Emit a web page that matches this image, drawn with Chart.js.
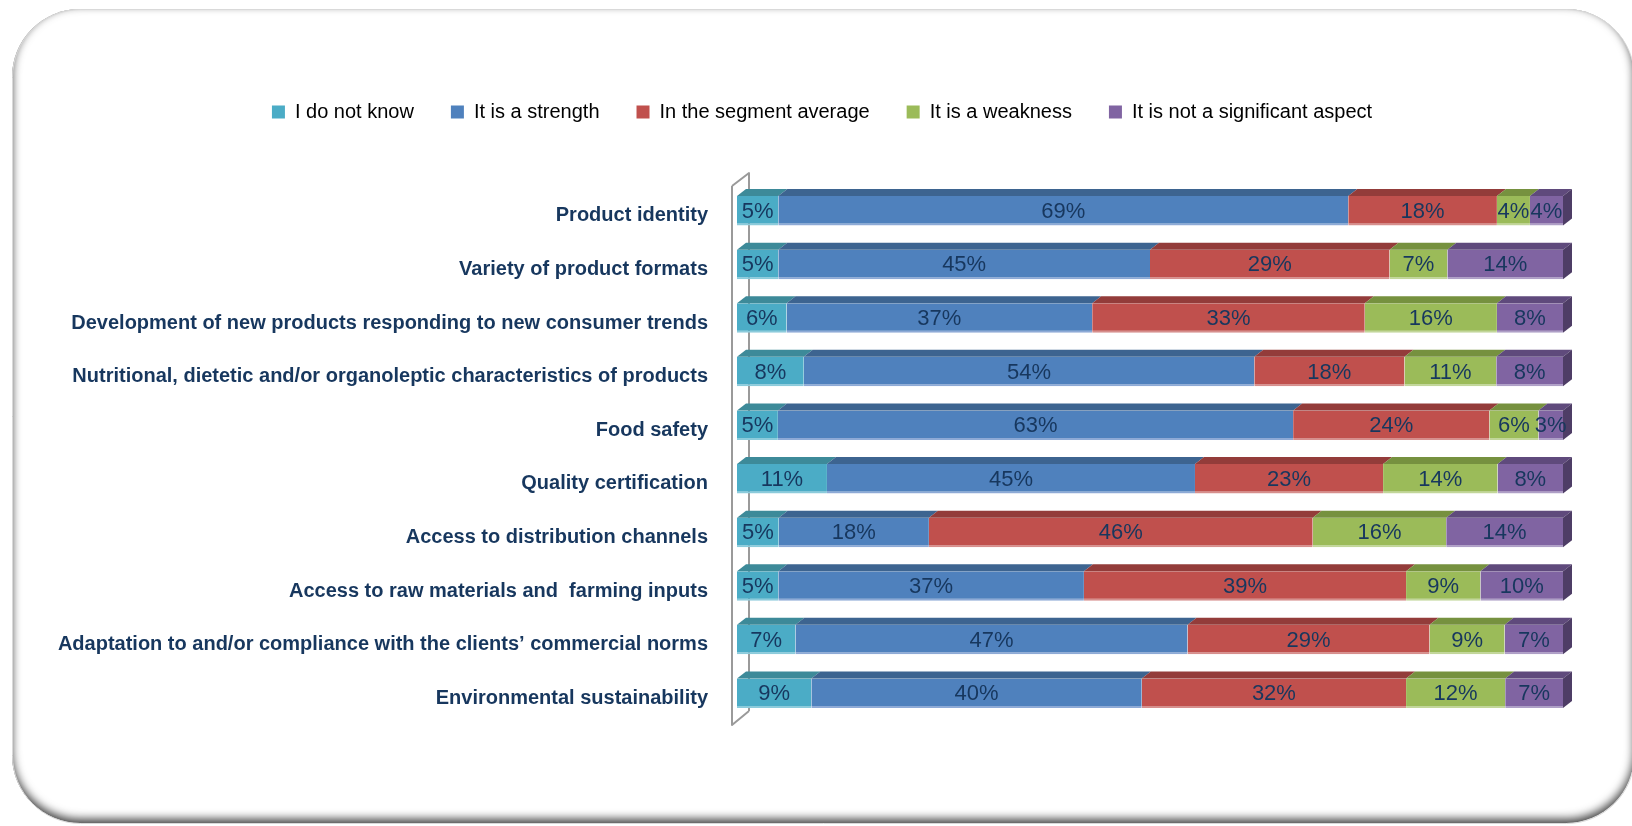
<!DOCTYPE html>
<html>
<head>
<meta charset="utf-8">
<script src="https://cdn.jsdelivr.net/npm/chart.js@4.4.1/dist/chart.umd.min.js"></script>
<style>
  html, body { margin: 0; padding: 0; background: #ffffff; }
  #wrap { width: 1632px; height: 826px; }
</style>
</head>
<body>
<div id="wrap"><canvas id="chart" width="1632" height="826"></canvas></div>
<script>
// Survey aspects (top to bottom)
const categories = [
  "Product identity",
  "Variety of product formats",
  "Development of new products responding to new consumer trends",
  "Nutritional, dietetic and/or organoleptic characteristics of products",
  "Food safety",
  "Quality certification",
  "Access to distribution channels",
  "Access to raw materials and  farming inputs",
  "Adaptation to and/or compliance with the clients\u2019 commercial norms",
  "Environmental sustainability"
];

const seriesNames = [
  "I do not know",
  "It is a strength",
  "In the segment average",
  "It is a weakness",
  "It is not a significant aspect"
];

// Answer shares, in percent
const doNotKnow      = [5, 5, 6, 8, 5, 11, 5, 5, 7, 9];
const strength       = [69, 45, 37, 54, 63, 45, 18, 37, 47, 40];
const segmentAverage = [18, 29, 33, 18, 24, 23, 46, 39, 29, 32];
const weakness       = [4, 7, 16, 11, 6, 14, 16, 9, 9, 12];
const notSignificant = [4, 14, 8, 8, 3, 8, 14, 10, 7, 7];

const seriesValues = [doNotKnow, strength, segmentAverage, weakness, notSignificant];

// Face, top-face and lower-edge colours per series
const faceColors  = ["#4BACC6", "#4F81BD", "#C0504D", "#9BBB59", "#8064A2"];
const topColors   = ["#3D8A99", "#3D6490", "#933C3A", "#76913F", "#5F4A7C"];
const edgeColors  = ["#8CCBDB", "#8EAAD6", "#D68F8D", "#C2D69A", "#AE9FC6"];
const sideColor   = "#4E3D66";

const textNavy = "#17375E";

// 100% stacked: each row is scaled to its own total
const rowTotals = categories.map((_, i) => seriesValues.reduce((s, arr) => s + arr[i], 0));

const datasets = seriesNames.map((name, k) => ({
  label: name,
  data: seriesValues[k].map((v, i) => v / rowTotals[i] * 100),
  shares: seriesValues[k],
  backgroundColor: faceColors[k],
  borderColor: edgeColors[k],
  borderWidth: { top: 0, right: 0, bottom: 2, left: 0 },
  borderSkipped: false,
  barPercentage: 0.55,
  categoryPercentage: 1.0
}));

const DEPTH_X = 9;
const DEPTH_Y = 7;

function roundedPath(ctx, x, y, w, h, r) {
  ctx.moveTo(x + r, y);
  ctx.lineTo(x + w - r, y);
  ctx.arcTo(x + w, y, x + w, y + r, r);
  ctx.lineTo(x + w, y + h - r);
  ctx.arcTo(x + w, y + h, x + w - r, y + h, r);
  ctx.lineTo(x + r, y + h);
  ctx.arcTo(x, y + h, x, y + h - r, r);
  ctx.lineTo(x, y + r);
  ctx.arcTo(x, y, x + r, y, r);
  ctx.closePath();
}

// White panel with a rounded, inset-shaded border
const panelFrame = {
  id: "panelFrame",
  beforeDraw(chart) {
    const ctx = chart.ctx;
    const W = chart.width, H = chart.height;
    ctx.save();
    ctx.fillStyle = "#ffffff";
    ctx.fillRect(0, 0, W, H);

    const fx = 12, fy = 9, fw = 1622, fh = 814, fr = 68;
    ctx.beginPath();
    roundedPath(ctx, fx, fy, fw, fh, fr);
    ctx.clip();

    ctx.beginPath();
    ctx.rect(-200, -200, W + 400, H + 400);
    roundedPath(ctx, fx, fy, fw, fh, fr);
    ctx.shadowColor = "rgba(0,0,0,0.75)";
    ctx.shadowBlur = 10;
    ctx.shadowOffsetX = 0;
    ctx.shadowOffsetY = -4;
    ctx.fillStyle = "#7a7a7a";
    ctx.fill("evenodd");
    ctx.restore();

    ctx.save();
    ctx.beginPath();
    roundedPath(ctx, fx + 0.5, fy + 0.5, fw, fh, fr);
    ctx.strokeStyle = "#d9d9d9";
    ctx.lineWidth = 1;
    ctx.stroke();
    ctx.restore();
  }
};

// Centre the legend row over the whole panel rather than the padded area
const legendCentre = {
  id: "legendCentre",
  afterLayout(chart) {
    const lg = chart.legend;
    if (!lg) return;
    const shift = (chart.width - lg.right) - lg.left + 12;
    lg.left += shift / 2;
    lg.right += shift / 2;
  }
};

// Floor/wall edge of the 3-D plot on the category side
const wallEdge = {
  id: "wallEdge",
  beforeDatasetsDraw(chart) {
    const { left, top, bottom } = chart.chartArea;
    const ctx = chart.ctx;
    const fx = left - 5, bx = left + 12;
    ctx.save();
    ctx.strokeStyle = "#9a9a9a";
    ctx.lineWidth = 2;
    ctx.lineJoin = "round";
    ctx.beginPath();
    ctx.moveTo(fx, top + 2);
    ctx.lineTo(fx, bottom + 5);
    ctx.lineTo(bx, bottom - 9);
    ctx.moveTo(fx, top + 2);
    ctx.lineTo(bx, top - 11);
    ctx.lineTo(bx, bottom - 9);
    ctx.stroke();
    ctx.restore();
  }
};

// Top faces and end cap of the extruded bars, then the share labels
const barDepth = {
  id: "barDepth",
  afterDatasetsDraw(chart) {
    const ctx = chart.ctx;
    ctx.save();
    chart.data.datasets.forEach((ds, k) => {
      const meta = chart.getDatasetMeta(k);
      meta.data.forEach((bar) => {
        const p = bar.getProps(["x", "y", "base", "height"], true);
        const x0 = Math.min(p.base, p.x), x1 = Math.max(p.base, p.x);
        const yT = p.y - p.height / 2, yB = p.y + p.height / 2;
        ctx.fillStyle = topColors[k];
        ctx.beginPath();
        ctx.moveTo(x0, yT);
        ctx.lineTo(x1, yT);
        ctx.lineTo(x1 + DEPTH_X, yT - DEPTH_Y);
        ctx.lineTo(x0 + DEPTH_X, yT - DEPTH_Y);
        ctx.closePath();
        ctx.fill();
        if (k === chart.data.datasets.length - 1) {
          ctx.fillStyle = sideColor;
          ctx.beginPath();
          ctx.moveTo(x1, yT);
          ctx.lineTo(x1 + DEPTH_X, yT - DEPTH_Y);
          ctx.lineTo(x1 + DEPTH_X, yB - DEPTH_Y);
          ctx.lineTo(x1, yB);
          ctx.closePath();
          ctx.fill();
        }
      });
    });

    ctx.font = '22px "Liberation Sans", Arial, sans-serif';
    ctx.fillStyle = textNavy;
    ctx.textAlign = "center";
    ctx.textBaseline = "middle";
    chart.data.datasets.forEach((ds, k) => {
      const meta = chart.getDatasetMeta(k);
      meta.data.forEach((bar, i) => {
        const p = bar.getProps(["x", "y", "base"], true);
        ctx.fillText(ds.shares[i] + "%", (p.x + p.base) / 2, p.y + 1);
      });
    });
    ctx.restore();
  }
};

new Chart(document.getElementById("chart"), {
  type: "bar",
  data: { labels: categories, datasets: datasets },
  options: {
    indexAxis: "y",
    responsive: false,
    animation: false,
    layout: { padding: { top: 65, left: 12, right: 69, bottom: 106 } },
    plugins: {
      legend: {
        position: "top",
        align: "center",
        labels: {
          boxWidth: 13,
          boxHeight: 13,
          padding: 37,
          color: "#1E2F4F",
          font: { family: '"Liberation Sans", Arial, sans-serif', size: 20 },
          generateLabels: (chart) => chart.data.datasets.map((ds, k) => ({
            text: ds.label,
            fillStyle: faceColors[k],
            strokeStyle: faceColors[k],
            lineWidth: 0,
            hidden: false,
            datasetIndex: k
          }))
        }
      },
      tooltip: { enabled: false }
    },
    scales: {
      x: {
        position: "top",
        stacked: true,
        min: 0,
        max: 100,
        ticks: { display: false },
        grid: { display: false, drawTicks: false },
        border: { display: false },
        afterFit: (scale) => { scale.height = 52; }
      },
      y: {
        stacked: true,
        grid: { display: false, drawTicks: false },
        border: { display: false },
        ticks: {
          autoSkip: false,
          padding: 29,
          labelOffset: 5,
          color: textNavy,
          font: { family: '"Liberation Sans", Arial, sans-serif', size: 20, weight: "bold" }
        },
        afterFit: (scale) => { scale.width = 725; }
      }
    }
  },
  plugins: [panelFrame, legendCentre, wallEdge, barDepth]
});
</script>
</body>
</html>
